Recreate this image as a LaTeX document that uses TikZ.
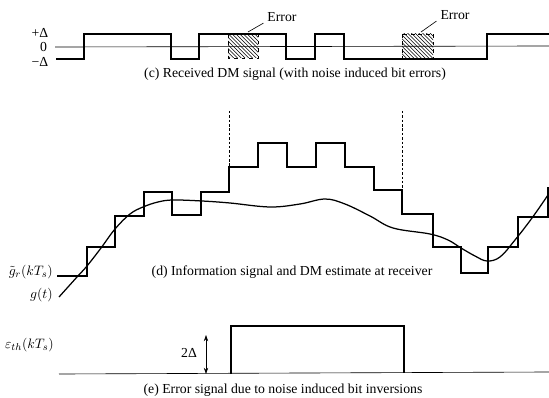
\documentclass[tikz,border=0pt]{standalone}
\usepackage{fontspec}
\setmainfont{Liberation Serif}
\usetikzlibrary{patterns,arrows.meta}

\begin{document}
\begin{tikzpicture}[x=0.8pt,y=-0.8pt,
    sig/.style={line width=1.8pt},
    thinline/.style={line width=0.5pt},
    lbl/.style={inner sep=0pt,font=\fontsize{11}{13}\selectfont}]
        \useasboundingbox (0,0) rectangle (549,398);
        % received DM signal
        \draw[thinline] (55,47) -- (549,46);
        \fill[pattern=north west lines] (228,34) rectangle (258,58);
        \draw[thinline,dashed] (228,34) rectangle (258,58);
        \fill[pattern=north west lines] (402,34) rectangle (433,58);
        \draw[thinline,dashed] (402,34) rectangle (433,58);
        \draw[sig] (56,59) -| (84,34) -| (171,59) -| (199,34) -| (286,59)
          -| (315,34) -| (344,59) -| (487,34) -- (549,34);
        \node[lbl] (plus) at (40,33) {+Δ};
        \node[lbl] (zero) at (43.5,47) {0};
        \node[lbl] (minus) at (40,62) {−Δ};
        \node[lbl] (err1) at (282,17) {Error};
        \node[lbl] (err2) at (455,15) {Error};
        \coordinate (e1) at (248,32);
        \coordinate (e2) at (421,32);
        \draw[thinline] ([xshift=-3pt,yshift=-1pt]err1.south west) -- (e1);
        \draw[thinline] ([xshift=-3pt,yshift=-1pt]err2.south west) -- (e2);
        \node[lbl] (capc) at (295,74) {(c) Received DM signal (with noise induced bit errors)};
        % estimate and information signal
        \draw[thinline,dash pattern=on 2pt off 1.5pt] (229,111) -- (229,167);
        \draw[thinline,dash pattern=on 2pt off 1.5pt] (402,111) -- (402,190);
        \draw[sig] (57,276) -| (87,247) -| (115,216) -| (144,192) -| (172,215)
          -| (201,192) -| (229,167) -| (258,143) -| (287,167) -| (316,143)
          -| (345,167) -| (374,190) -| (402,214) -| (433,247) -| (461,273)
          -| (488,247) -| (518,217) -| (548,187);
        \draw[line width=1pt] plot[smooth,tension=0.6] coordinates {
          (59,297) (77,277) (87,266) (101,248) (115,229) (130,214) (143,207)
          (158,202) (173,200) (202,201) (230,203) (270,207) (300,204) (325,199)
          (345,204) (370,216) (393,228) (430,234) (448,240) (461,248) (475,256)
          (487,261) (500,257) (515,240) (532,218) (548,195)};
        \node[lbl,anchor=east] (gr) at (53,272) {$\tilde{g}_r(kT_s)$};
        \node[lbl,anchor=east] (gt) at (53,295) {$g(t)$};
        \node[lbl] (capd) at (292,272) {(d) Information signal and DM estimate at receiver};
        % error signal
        \draw[thinline] (59,374) -- (549,372);
        \draw[line width=1.5pt] (231,374) -- (231,326) -- (404,326) -- (404,373);
        \coordinate (ea) at (206,335);
        \coordinate (eb) at (206,374);
        \draw[thinline,{Stealth[length=5pt,width=3.5pt]}-{Stealth[length=5pt,width=3.5pt]}] (ea) -- (eb);
        \node[lbl] (twod) at (189,353) {2Δ};
        \node[lbl,anchor=east] (eps) at (54,345) {$\varepsilon_{th}(kT_s)$};
        \node[lbl] (cape) at (283,390) {(e) Error signal due to noise induced bit inversions};
      \end{tikzpicture}
\end{document}
